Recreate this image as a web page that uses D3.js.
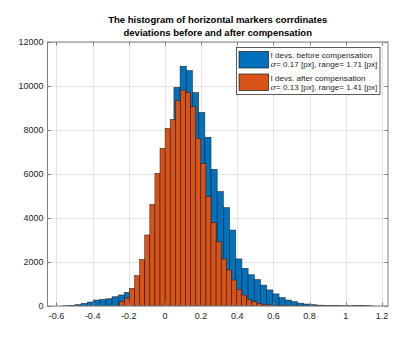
<!DOCTYPE html>
<html><head><meta charset="utf-8">
<script src="https://cdn.jsdelivr.net/npm/d3@7"></script>
<style>html,body{margin:0;padding:0;background:#fff;}svg{display:block;font-family:"Liberation Sans",Arial,sans-serif;}</style>
</head><body>
<svg id="c" width="407" height="342"></svg>
<script>
// ---- data ----
const titleLines = ["The histogram of horizontal markers corrdinates", "deviations before and after compensation"];
const xTicks = [-0.6,-0.4,-0.2,0,0.2,0.4,0.6,0.8,1,1.2];
const xTickLabels = ["-0.6","-0.4","-0.2","0","0.2","0.4","0.6","0.8","1","1.2"];
const yTicks = [0,2000,4000,6000,8000,10000,12000];
const yTickLabels = ["0","2000","4000","6000","8000","10000","12000"];
const seriesNames = ["I devs. before compensation","I devs. after compensation"];
const seriesSigma = ["0.17","0.13"];
const seriesRange = ["1.71","1.41"];
// bin range (min, max) of each series, 50 bins each
const blueMin = -0.566, blueMax = 1.144;
const orangeMin = -0.2529, orangeMax = 1.1571;
const blueCounts = [10,30,60,120,180,270,300,330,420,500,
  620,760,1300,2000,3200,4600,7000,8000,9940,10900,
  10700,9700,8800,7670,6210,5200,4470,3450,2140,1710,
  1420,1200,950,730,550,380,270,200,130,90,
  60,40,30,20,15,10,10,20,20,10];
const orangeCounts = [200,360,800,1380,2120,3230,4620,6030,7170,8080,
  8480,9330,9820,9710,9060,7620,6480,4970,3800,2920,
  2140,1640,1180,760,500,290,200,120,80,50,
  30,20,15,10,8,6,5,4,3,3,
  2,2,2,1,1,1,1,1,1,1];
const colors = ["#0072BD","#D95319"];

// ---- layout ----
const L = 47.5, R = 388, T = 42, B = 306;
const svg = d3.select("#c");
const x = d3.scaleLinear().domain([-0.6497, 1.2338]).range([L, R]);
const y = d3.scaleLinear().domain([0, 12000]).range([B, T]);

// grid
const grid = svg.append("g");
xTicks.forEach(t => grid.append("line").attr("x1", Math.round(x(t))+0.5).attr("x2", Math.round(x(t))+0.5)
  .attr("y1", T).attr("y2", B).attr("stroke", "#e3e3e3").attr("stroke-width", 1));
yTicks.forEach(t => grid.append("line").attr("y1", Math.round(y(t))+0.5).attr("y2", Math.round(y(t))+0.5)
  .attr("x1", L).attr("x2", R).attr("stroke", "#e3e3e3").attr("stroke-width", 1));

// bars
svg.append("clipPath").attr("id","clip").append("rect").attr("x",L).attr("y",T).attr("width",R-L).attr("height",B-T);
function drawHist(counts, mn, mx, color) {
  const n = counts.length, w = (mx - mn) / n;
  const bins = counts.map((c, i) => ({x0: mn + i * w, x1: mn + (i + 1) * w, c}));
  svg.append("g").attr("clip-path","url(#clip)").selectAll("rect").data(bins).join("rect")
    .attr("x", d => x(d.x0)).attr("width", d => x(d.x1) - x(d.x0))
    .attr("y", d => y(d.c)).attr("height", d => y(0) - y(d.c))
    .attr("fill", color).attr("stroke", "#1a1a1a").attr("stroke-width", 0.6).attr("stroke-opacity", 0.85);
}
drawHist(blueCounts, blueMin, blueMax, colors[0]);
drawHist(orangeCounts, orangeMin, orangeMax, colors[1]);

// axes box and ticks
const axc = "#808080";
svg.append("rect").attr("x", L).attr("y", T).attr("width", R - L).attr("height", B - T)
  .attr("fill", "none").attr("stroke", axc).attr("stroke-width", 1);
const tk = 3.5;
xTicks.forEach(t => {
  const xx = Math.round(x(t)) + 0.5;
  svg.append("line").attr("x1", xx).attr("x2", xx).attr("y1", B).attr("y2", B - tk).attr("stroke", axc);
  svg.append("line").attr("x1", xx).attr("x2", xx).attr("y1", T).attr("y2", T + tk).attr("stroke", axc);
});
yTicks.forEach(t => {
  const yy = Math.round(y(t)) + 0.5;
  svg.append("line").attr("y1", yy).attr("y2", yy).attr("x1", L).attr("x2", L + tk).attr("stroke", axc);
  svg.append("line").attr("y1", yy).attr("y2", yy).attr("x1", R).attr("x2", R - tk).attr("stroke", axc);
});
// tick labels
const tc = "#262626";
svg.append("g").selectAll("text").data(xTicks).join("text")
  .attr("x", d => x(d)).attr("y", B + 13).attr("text-anchor", "middle")
  .attr("font-size", "9px").attr("fill", tc).text((d, i) => xTickLabels[i]);
svg.append("g").selectAll("text").data(yTicks).join("text")
  .attr("x", L - 4).attr("y", d => y(d) + 3).attr("text-anchor", "end")
  .attr("font-size", "9px").attr("fill", tc).text((d, i) => yTickLabels[i]);

// title
titleLines.forEach((s, i) => svg.append("text").attr("x", (L + R) / 2).attr("y", 23 + i * 13.3)
  .attr("text-anchor", "middle").attr("font-size", "9.5px").attr("font-weight", "bold").attr("fill", "#000").text(s));

// legend
const lg = svg.append("g");
lg.append("rect").attr("x", 236.5).attr("y", 47.5).attr("width", 143.5).attr("height", 47)
  .attr("fill", "#fff").attr("stroke", "#333").attr("stroke-width", 0.8);
seriesNames.forEach((s, i) => {
  const y0 = 51.5 + i * 22.5;
  lg.append("rect").attr("x", 239).attr("y", y0).attr("width", 29.5).attr("height", 16.5)
    .attr("fill", colors[i]).attr("stroke", "#1a1a1a").attr("stroke-width", 0.7);
  lg.append("text").attr("x", 270.5).attr("y", y0 + 6.5).attr("font-size", "8.1px").attr("fill", tc).text(s);
  const t2 = lg.append("text").attr("x", 270.5).attr("y", y0 + 15.5).attr("font-size", "8.1px").attr("fill", tc);
  t2.append("tspan").attr("font-style", "italic").attr("font-family", "'DejaVu Serif',serif").text("σ");
  t2.append("tspan").text("= " + seriesSigma[i] + " [px], range= " + seriesRange[i] + " [px]");
});
</script>
</body></html>
